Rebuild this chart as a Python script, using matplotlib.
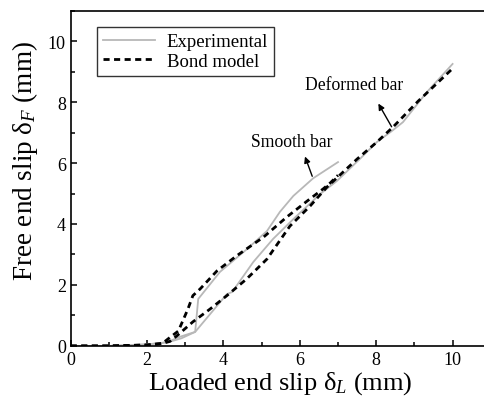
import matplotlib
matplotlib.use("Agg")
import matplotlib.pyplot as plt
from matplotlib.ticker import MultipleLocator

plt.rcParams["font.family"] = ["Liberation Serif", "DejaVu Serif"]
plt.rcParams["mathtext.fontset"] = "custom"
plt.rcParams["mathtext.rm"] = "Liberation Serif"
plt.rcParams["mathtext.it"] = "Liberation Serif:italic"

# experimental, smooth bar
exp_smooth_x = [0, 1.0, 2.0, 2.4, 2.6, 2.86, 3.26, 3.34, 3.91, 4.62, 5.14, 5.48, 5.83, 6.35, 7.0]
exp_smooth_y = [0, 0.0, 0.05, 0.1, 0.16, 0.30, 0.46, 1.54, 2.43, 3.18, 3.77, 4.40, 4.92, 5.50, 6.03]
# experimental, deformed bar
exp_def_x = [0, 1.0, 2.0, 2.4, 2.6, 2.9, 3.26, 4.09, 4.23, 4.78, 5.30, 5.83, 6.53, 6.97, 7.57,
             8.02, 8.41, 8.70, 9.33, 10.0]
exp_def_y = [0, 0.0, 0.05, 0.1, 0.14, 0.25, 0.46, 1.70, 1.77, 2.75, 3.51, 4.16, 4.98, 5.41, 6.13,
             6.69, 7.05, 7.34, 8.33, 9.25]
# bond model, smooth bar
mod_smooth_x = [0, 1.0, 2.0, 2.4, 2.55, 2.82, 3.07, 3.2, 3.39, 3.83, 4.35, 5.05, 5.66, 6.19, 6.61, 6.8, 7.0]
mod_smooth_y = [0, 0.0, 0.03, 0.08, 0.23, 0.49, 1.21, 1.65, 1.87, 2.46, 2.96, 3.57, 4.23, 4.75, 5.15, 5.35, 5.6]
# bond model, deformed bar
mod_def_x = [0, 1.0, 2.0, 2.4, 2.6, 2.78, 3.2, 3.65, 4.09, 4.61, 5.14, 5.74, 6.27, 6.71, 7.5,
             8.02, 8.44, 9.1, 10.0]
mod_def_y = [0, 0.0, 0.03, 0.08, 0.15, 0.33, 0.79, 1.21, 1.65, 2.2, 2.85, 3.93, 4.59, 5.21, 6.13,
             6.69, 7.18, 8.03, 9.1]

fig = plt.figure(figsize=(4.84, 4.14), dpi=100)
ax = fig.add_axes([0.146, 0.162, 0.868, 0.81])

gray = "#b8b8b8"
ax.plot(exp_smooth_x, exp_smooth_y, color=gray, lw=1.3, label="Experimental")
ax.plot(exp_def_x, exp_def_y, color=gray, lw=1.3)
ax.plot(mod_smooth_x, mod_smooth_y, color="black", lw=2.0, dashes=(2.2, 1.6), label="Bond model")
ax.plot(mod_def_x, mod_def_y, color="black", lw=2.0, dashes=(2.2, 1.6))

ax.set_xlim(0, 11)
ax.set_ylim(0, 11)
ax.xaxis.set_major_locator(MultipleLocator(2))
ax.xaxis.set_minor_locator(MultipleLocator(1))
ax.yaxis.set_major_locator(MultipleLocator(2))
ax.yaxis.set_minor_locator(MultipleLocator(1))
ax.tick_params(which="both", direction="in", labelsize=13, width=1.1)
ax.tick_params(which="major", length=4.5)
ax.tick_params(which="minor", length=3)
for s in ax.spines.values():
    s.set_linewidth(1.2)

ax.set_xlabel(r"Loaded end slip δ$_{\mathit{L}}$ (mm)", fontsize=19, labelpad=1)
ax.set_ylabel(r"Free end slip δ$_{\mathit{F}}$ (mm)", fontsize=19.5, labelpad=3)
ax.yaxis.set_label_coords(-0.072, 0.555)

ax.legend(loc="upper left", bbox_to_anchor=(0.063, 0.95), fontsize=13.5, frameon=True,
          fancybox=False, edgecolor="black", handlelength=2.8, borderpad=0.3,
          labelspacing=0.15, handletextpad=0.6, borderaxespad=0)

ax.annotate("Deformed bar", xy=(8.02, 8.03), xytext=(7.42, 8.59), fontsize=12.7,
            ha="center", va="center")
ax.annotate("", xy=(8.02, 8.03), xytext=(8.44, 7.11),
            arrowprops=dict(arrowstyle="-|>", color="black", lw=1.0, mutation_scale=9))
ax.annotate("Smooth bar", xy=(6.11, 6.3), xytext=(5.8, 6.69), fontsize=12.7,
            ha="center", va="center")
ax.annotate("", xy=(6.11, 6.3), xytext=(6.35, 5.48),
            arrowprops=dict(arrowstyle="-|>", color="black", lw=1.0, mutation_scale=9))

fig.savefig("out.png", dpi=100)
